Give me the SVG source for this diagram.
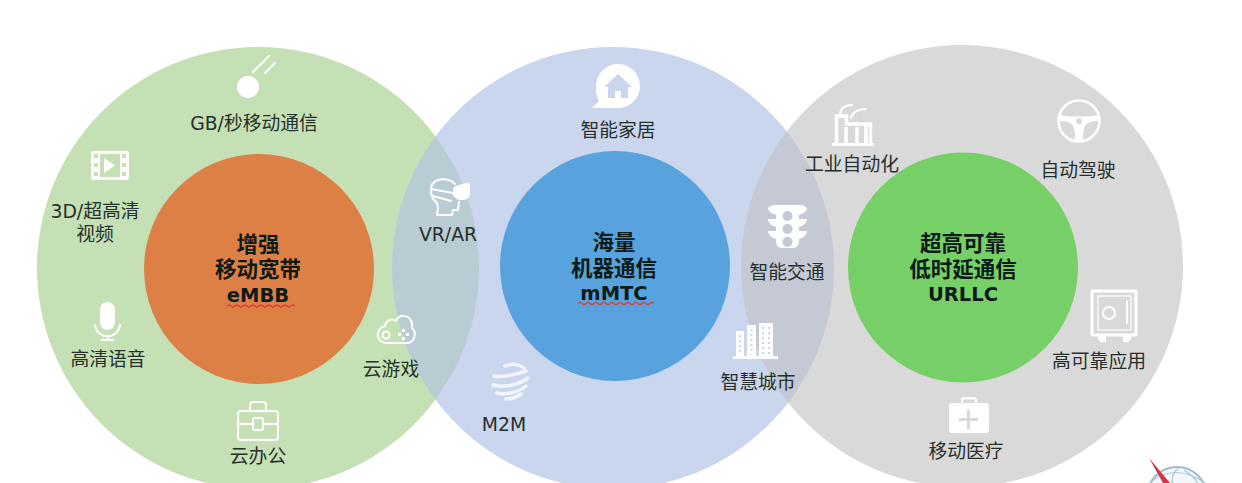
<svg xmlns="http://www.w3.org/2000/svg" width="1242" height="483" viewBox="0 0 1242 483">
<style>
text{font-family:"DejaVu Sans","Noto Sans CJK SC",sans-serif;text-anchor:middle}
.l{font-size:18.8px;fill:#26302c}
.h{font-size:21.500px;font-weight:700;fill:#0c1a18}
.h .a{font-size:19.500px}
.w{fill:#fff}
.o{fill:none;stroke:#fff;stroke-width:2;stroke-linecap:round;stroke-linejoin:round}
.o3{fill:none;stroke:#fff;stroke-width:3}
.sq{fill:none;stroke:#d9433c;stroke-width:1.2}
</style>
<defs>
<clipPath id="cg"><circle cx="258" cy="268" r="221"/></clipPath>
<clipPath id="cb"><circle cx="613" cy="268" r="221"/></clipPath>
<clipPath id="cl"><rect x="1120" y="440" width="122" height="43"/></clipPath>
</defs>
<rect width="1242" height="483" fill="#fff"/>
<g id="rings">
<circle cx="258" cy="268" r="221" fill="#c5e0b4"/>
<circle cx="962" cy="266" r="221" fill="#d9d9d9"/>
<circle cx="613" cy="268" r="221" fill="#cad6ee"/>
<circle cx="613" cy="268" r="221" fill="#b9cbd3" clip-path="url(#cg)"/>
<circle cx="962" cy="266" r="221" fill="#c5c9d3" clip-path="url(#cb)"/>
</g>
<g id="embb">
<circle cx="259" cy="269" r="115" fill="#dd8046"/>
<text class="h"><tspan x="258" y="252">增强</tspan><tspan x="258" y="277">移动宽带</tspan><tspan class="a" x="258" y="302">eMBB</tspan></text>
<path class="sq" d="M227 306q2-2 4 0t4 0 4 0 4 0 4 0 4 0 4 0 4 0 4 0 4 0 4 0 4 0 4 0 4 0 4 0 4 0 4 0"/>
</g>
<g id="mmtc">
<circle cx="615" cy="266" r="115" fill="#58a3dd"/>
<text class="h"><tspan x="614" y="250">海量</tspan><tspan x="614" y="276">机器通信</tspan><tspan class="a" x="614" y="300">mMTC</tspan></text>
<path class="sq" d="M578 303.500q2-2 4 0t4 0 4 0 4 0 4 0 4 0 4 0 4 0 4 0 4 0 4 0 4 0 4 0 4 0 4 0 4 0 4 0 4 0 4 0"/>
</g>
<g id="urllc">
<circle cx="963" cy="267.500" r="115" fill="#77cf68"/>
<text class="h"><tspan x="963" y="251">超高可靠</tspan><tspan x="963" y="277">低时延通信</tspan><tspan class="a" x="963" y="301">URLLC</tspan></text>
</g>
<g id="gb">
<circle class="w" cx="248" cy="87" r="11"/>
<path class="o" d="M253 72l16-16M265 73l10-10"/>
<text class="l" x="254" y="130">GB/秒移动通信</text>
</g>
<g id="video">
<rect class="w" x="91" y="151" width="38" height="29" rx="2"/>
<rect x="100" y="154" width="20" height="23" fill="#c5e0b4"/>
<path class="w" d="M104 158l11 7.500-11 7.500z"/>
<g fill="#c5e0b4"><rect x="94" y="154" width="4" height="4"/><rect x="94" y="163" width="4" height="4"/><rect x="94" y="172" width="4" height="4"/><rect x="122" y="154" width="4" height="4"/><rect x="122" y="163" width="4" height="4"/><rect x="122" y="172" width="4" height="4"/></g>
<text class="l"><tspan x="95" y="218">3D/超高清</tspan><tspan x="95" y="241">视频</tspan></text>
</g>
<g id="voice">
<rect class="w" x="100" y="302" width="15" height="28" rx="7.500"/>
<path class="o" d="M95 325c2 15 23 15 25 0M107.500 336v4"/>
<path class="w" d="M101 339h13v2h-13z"/>
<text class="l" x="108" y="366">高清语音</text>
</g>
<g id="office">
<rect class="o" x="238" y="411" width="40" height="29" rx="3"/>
<path class="o" d="M250 411v-6q0-3 3-3h10q3 0 3 3v6M239 424h13M264 424h14"/>
<rect class="o" x="253" y="418" width="10" height="12" rx="2"/>
<text class="l" x="258" y="463">云办公</text>
</g>
<g id="game">
<path class="o" d="M387 343c-12 0-12-15-2-17 1-6 7-8 11-5 3-8 15-6 16 3 1 2 0 3 0 4 5 4 3 15-5 15z"/>
<circle class="o" cx="386" cy="335" r="3.500"/>
<path class="w" d="M402 329h3v3h-3zM402 337h3v3h-3zM398 333h3v3h-3zM406 333h3v3h-3z"/>
<text class="l" x="391" y="376">云游戏</text>
</g>
<g id="vr">
<path class="o" d="M455 184c-4-6-22-8-24 4-1 8 2 12 6 15l1 5-1 7h15l1-5h5l1-8M431 189l22 4M433 196l18 5"/>
<path class="w" d="M453 190q0-3 3-4l10-3q4-1 4 3v7q0 6-6 7l-4 0q-2 0-3-1l-4-3z"/>
<text class="l" x="448" y="241">VR/AR</text>
</g>
<g id="home">
<path class="w" d="M596 87a22 22 0 1 1 22 21h-26l7-7a22 22 0 0 1-3-14z"/>
<path fill="#cad6ee" d="M618 74l14 13h-4v11h-7v-7h-6v7h-7v-11h-4z"/>
<text class="l" x="618" y="137">智能家居</text>
</g>
<g id="traffic">
<path class="w" d="M776 205h23c5 0 8 2 8 4-1 3-4 5-8 6v4h8c0 4-4 7-8 8v4h8c0 4-4 7-8 8v3a6 6 0 0 1-6 6h-11a6 6 0 0 1-6-6v-3c-4-1-8-4-8-8h8v-4c-4-1-8-4-8-8h8v-4c-4-1-7-3-8-6 0-2 3-4 8-4z"/>
<g fill="#c5c9d3"><circle cx="787.500" cy="216" r="5"/><circle cx="787.500" cy="229" r="5"/><circle cx="787.500" cy="242" r="5"/></g>
<text class="l" x="787" y="279">智能交通</text>
</g>
<g id="city">
<rect class="w" x="733" y="356" width="45" height="3"/>
<rect class="w" x="736" y="331" width="8" height="25"/>
<rect class="w" x="747" y="325" width="9" height="31"/>
<rect class="w" x="759" y="323" width="14" height="33"/>
<path fill="none" stroke="#cad6ee" stroke-width="2" stroke-dasharray="2 3" d="M740 335v20M751.500 329v26M763 327v28M769 327v28"/>
<text class="l" x="758" y="389">智慧城市</text>
</g>
<g id="m2m">
<path fill="none" stroke="#fff" stroke-opacity=".75" stroke-width="3.500" stroke-linecap="round" d="M505 366c6-3 14-2 19 2M494 376c8 2 24-2 32-5M493 385c10 3 26 0 35-7M497 393c10 2 22-1 29-7M506 399c6 0 11-2 15-5"/>
<text class="l" x="504" y="431">M2M</text>
</g>
<g id="factory">
<rect class="w" x="832" y="143" width="42" height="3"/>
<path fill="none" stroke="#fff" stroke-width="3.500" d="M836.500 143v-27l10 0v8h24v19M846 127v16M857 127v16M866 124v19"/>
<path class="o" d="M840 116c0-8 4-11 12-11M851 118c1-6 8-9 15-9"/>
<text class="l" x="852" y="171">工业自动化</text>
</g>
<g id="drive">
<circle cx="1079" cy="121" r="20.500" fill="none" stroke="#fff" stroke-width="2.500"/>
<path class="w" d="M1059 115c12 2 28 2 40 0l1 6c-8 0-13 1-15 5-2 4-2 10-2 15h-8c0-5 0-11-2-15-2-4-7-5-15-5z"/>
<circle cx="1079" cy="121" r="3" fill="#d9d9d9"/>
<text class="l" x="1078" y="177">自动驾驶</text>
</g>
<g id="safe">
<rect x="1092" y="291" width="44" height="44" rx="1" class="o3"/>
<rect x="1098" y="296" width="33" height="34" fill="none" stroke="#fff" stroke-width="1.200"/>
<circle cx="1109" cy="313" r="6" fill="none" stroke="#fff" stroke-width="2"/>
<path class="o" d="M1127 301v22"/>
<path class="w" d="M1097 336h9v6h-6zM1123 336h9l-3 6h-6z"/>
<text class="l" x="1099" y="368">高可靠应用</text>
</g>
<g id="medical">
<path class="w" d="M952 403h9v-3q0-3 3-3h10q3 0 3 3v3h9q3 0 3 3v24q0 3-3 3h-34q-3 0-3-3v-24q0-3 3-3z"/>
<rect x="963" y="399.500" width="12" height="3.500" fill="#d9d9d9"/>
<path fill="none" stroke="#d9d9d9" stroke-width="3" d="M968.500 410v19M959 419.500h19"/>
<text class="l" x="966" y="458">移动医疗</text>
</g>
<g id="logo" clip-path="url(#cl)">
<circle cx="1177" cy="497" r="30" fill="#f2f7f9" stroke="#9dbccb" stroke-width="2"/>
<path fill="none" stroke="#a8c6d4" stroke-width="1.200" d="M1150 483c15-14 35-14 55 0M1180 467c-8 6-10 12-6 20M1184 470c6 4 12 8 14 14"/>
<path fill="#d8324a" d="M1149 458l21 25h-7z"/>
</g>
</svg>
